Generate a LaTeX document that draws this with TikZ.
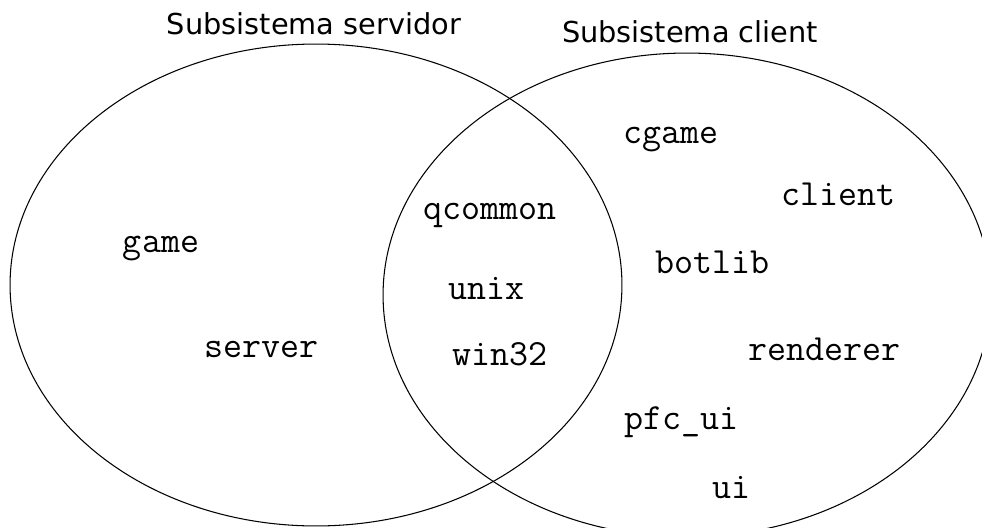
\documentclass[tikz,border=0pt]{standalone}
\usepackage{fontspec}
\setmainfont{DejaVu Sans}
\usetikzlibrary{shapes.geometric}
\tikzset{
  subsis/.style = {draw, ellipse, line width=0.6pt, inner sep=0pt},
  titol/.style  = {anchor=base, inner sep=0pt, font=\fontsize{16.4}{18}\selectfont},
  modul/.style  = {anchor=base, inner sep=0pt, font=\ttfamily\fontsize{21}{23}\selectfont},
}

\begin{document}
\begin{tikzpicture}[x=0.02cm, y=-0.02cm]
  \useasboundingbox (0,0) rectangle (982,527);
  \clip (0,0) rectangle (982,527);
  % subsistemes
  \node[subsis, minimum width=12.24cm, minimum height=9.64cm] (servidor) at (316,285) {};
  \node[subsis, minimum width=12.16cm, minimum height=9.68cm] (client) at (687,295) {};
  \node[titol] (tservidor) at (314,35) {Subsistema servidor};
  \node[titol] (tclient) at (690,43) {Subsistema client};
  % moduls
  \foreach \n/\t/\x/\y in {game/game/161/252, server/server/261/357,
      qcommon/qcommon/490/219, unix/unix/486/299, win32/win32/500/365,
      cgame/cgame/671/143, clientm/client/838/205, botlib/botlib/712/273,
      renderer/renderer/824/360, pfcui/pfc\_ui/681/429, ui/ui/731/498} {
    \node[modul] (\n) at (\x,\y) {\t};
  }
\end{tikzpicture}
\end{document}
